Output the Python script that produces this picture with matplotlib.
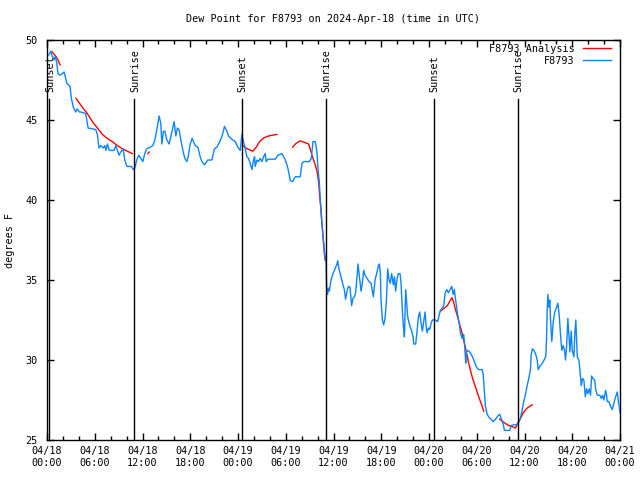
import numpy as np
import pandas as pd
import matplotlib
matplotlib.use("Agg")
import matplotlib.pyplot as plt
import matplotlib.dates as mdates
from matplotlib.lines import Line2D

# ---------------- data ----------------
start = pd.Timestamp("2024-04-18 00:00")

obs_hours = [
    0.21, 0.47, 0.63, 0.79, 0.88, 1.04, 1.22, 1.38, 1.64, 1.92, 2.14, 2.30, 2.48, 2.89, 3.06, 3.31,
    3.61, 3.81, 4.06, 4.24, 4.87, 5.16, 6.13, 6.33, 6.54, 6.75, 7.08, 7.26, 7.42, 7.58, 7.84, 8.01,
    8.43, 8.64, 8.84, 9.06, 9.27, 9.56, 9.77, 10.03, 10.60, 10.86, 11.03, 11.28, 11.53, 11.79, 12.04,
    12.29, 12.54, 12.96, 13.30, 13.55, 13.87, 14.09, 14.30, 14.43, 14.63, 14.81, 15.06, 15.35, 15.76,
    15.97, 16.19, 16.39, 16.60, 16.82, 17.07, 17.32, 17.57, 17.74, 17.99, 18.24,
    18.62, 18.96, 19.25, 19.46, 19.79, 20.21, 20.72, 21.04, 21.35, 21.76, 22.05, 22.30, 22.60, 22.81,
    23.23, 23.65, 23.99, 24.28, 24.49, 24.69, 24.91, 25.12, 25.32, 25.53, 25.75, 25.95, 26.08, 26.16,
    26.38, 26.58, 26.79, 27.01, 27.21, 27.42, 27.55, 27.76, 28.68, 29.02, 29.52, 29.85, 30.15, 30.35,
    30.57, 30.86, 31.19, 31.82, 32.04, 32.24, 32.96, 33.21, 33.42, 33.71, 33.92, 34.05, 34.21, 34.34,
    34.47, 34.63, 34.75, 34.88, 35.01, 35.06, 35.14, 35.26, 35.35, 35.47, 35.69, 35.94, 36.19, 36.44,
    36.52, 36.69, 36.94, 37.19, 37.36, 37.52, 37.70, 37.86, 38.08, 38.15, 38.28, 38.45, 38.62, 38.78,
    38.96, 39.08, 39.21, 39.37, 39.46, 39.62, 39.79, 39.96, 40.21, 40.47, 40.72, 40.88, 41.01, 41.22,
    41.47, 41.64, 41.76, 41.89, 41.97, 42.14, 42.30, 42.48, 42.64, 42.81, 42.98, 43.14, 43.31, 43.52,
    43.65, 43.81, 43.99, 44.15, 44.36, 44.49, 44.65, 44.78, 44.91, 45.07, 45.20, 45.32, 45.50, 45.66,
    45.82, 46.00, 46.08, 46.33, 46.50, 46.67, 46.83, 47.01, 47.17, 47.33, 47.51, 47.64, 47.76, 47.92,
    48.09, 48.26, 48.43, 48.77, 49.09, 49.27, 49.43, 49.60, 49.85, 50.03, 50.23, 50.44, 50.65, 50.86,
    51.03, 51.19, 51.28, 51.45, 51.61, 51.79, 51.95, 52.16, 52.36, 52.49, 52.62, 52.70, 52.87, 53.12,
    53.42, 53.62, 53.84, 54.05, 54.25, 54.68, 54.81, 54.97, 55.09, 55.31, 55.56, 55.81, 56.06, 56.35,
    56.64, 56.89, 57.07, 57.32, 57.48, 58.15, 58.33, 58.65, 58.99, 59.16, 59.33, 59.50, 59.66, 59.84,
    60.00, 60.16, 60.34, 60.54, 60.75, 60.84, 60.97, 61.17, 61.38, 61.60, 61.72, 61.92, 62.23, 62.52,
    62.68, 62.77, 62.85, 62.93, 63.06, 63.18, 63.27, 63.43, 63.61, 63.81, 64.03, 64.19, 64.36, 64.53,
    64.69, 64.87, 65.03, 65.16, 65.28, 65.45, 65.62, 65.70, 65.87, 66.00, 66.20, 66.33, 66.45, 66.63,
    66.83, 66.96, 67.13, 67.30, 67.46, 67.64, 67.80, 67.96, 68.14, 68.30, 68.43, 68.59, 68.81, 68.97,
    69.15, 69.47, 69.65, 69.81, 69.97, 70.19, 70.31, 70.40, 70.60, 70.82, 71.03, 71.23, 71.45, 71.66,
    71.79, 71.91, 71.99,
]
obs_dewpt = [
    49.06, 49.3, 49.0, 48.9, 48.75, 48.96, 48.6, 47.9, 47.8, 47.9, 48.0, 47.7, 47.3, 47.1, 46.35, 45.8,
    45.5, 45.7, 45.5, 45.5, 45.4, 44.5, 44.4, 44.1, 43.25, 43.4, 43.25, 43.4, 43.1, 43.5, 43.1, 43.1,
    43.1, 43.4, 43.1, 42.8, 43.0, 43.2, 42.5, 42.1, 42.1, 41.9, 42.0, 42.5, 42.8, 42.6, 42.4,
    42.9, 43.2, 43.3, 43.4, 43.75, 44.6, 45.25, 44.8, 43.5, 44.3, 44.3, 43.75, 43.5, 44.4,
    44.9, 44.0, 44.5, 44.4, 43.75, 43.1, 42.6, 42.4, 42.7, 43.5, 43.85,
    43.4, 43.3, 42.7, 42.4, 42.2, 42.5, 42.5, 43.2, 43.3, 43.7, 44.1, 44.6, 44.3, 44.0,
    43.8, 43.65, 43.3, 43.1, 44.1, 43.65, 43.2, 42.7, 42.6, 42.3, 41.9, 42.5, 42.7, 42.1,
    42.5, 42.4, 42.6, 42.4, 42.7, 42.9, 42.4, 42.55, 42.55, 42.8, 42.9, 42.6, 42.2, 41.8,
    41.2, 41.15, 41.45, 41.45, 42.3, 42.4, 42.4, 42.6, 43.65, 43.65, 43.0, 42.0, 41.15, 40.1,
    38.95, 38.1, 37.4, 36.7, 36.25, 36.15, 34.5, 34.1, 34.5, 34.3, 35.0, 35.4, 35.7, 36.0,
    36.2, 35.7, 35.2, 34.7, 34.4, 33.8, 34.3, 34.6, 34.55, 34.1, 33.4, 33.85, 33.95, 34.2,
    35.2, 36.0, 35.4, 34.6, 34.3, 34.8, 35.6, 35.3, 35.1, 34.9, 34.8, 34.3, 33.95, 35.0,
    35.5, 35.9, 36.0, 35.4, 33.75, 32.5, 32.2, 32.6, 33.65, 35.7, 35.0, 34.8, 35.4, 34.7,
    35.2, 34.3, 35.1, 35.4, 35.4, 34.8, 33.1, 32.1, 31.45, 34.4, 33.55, 32.7, 32.3, 32.05,
    31.8, 31.45, 31.0, 31.0, 31.8, 32.7, 33.0, 32.3, 31.8, 32.4, 33.0, 32.1, 31.7, 32.0,
    31.9, 32.3, 32.5, 32.5, 32.4, 32.8, 33.1, 33.2, 33.4, 34.2, 34.4, 34.2, 34.4, 34.6,
    34.1, 34.4, 33.95, 33.4, 32.8, 32.3, 31.7, 31.35, 31.6, 30.8, 29.8, 30.5, 30.6, 30.5,
    30.25, 30.0, 29.7, 29.5, 29.4, 29.4, 29.1, 28.0, 27.1, 26.6, 26.4, 26.3, 26.15, 26.3,
    26.5, 26.6, 26.35, 26.0, 25.6, 25.6, 25.9, 25.95, 25.95, 26.05, 26.15, 26.4, 26.75, 27.25,
    27.6, 27.95, 28.4, 28.85, 29.4, 30.3, 30.7, 30.6, 30.4, 30.0, 29.4, 29.6, 29.8, 30.05,
    30.25, 31.35, 33.1, 34.1, 33.3, 33.75, 32.5, 31.15, 32.4, 33.0, 33.3, 33.55, 32.8, 31.55,
    30.6, 30.9, 30.6, 30.0, 30.8, 32.6, 31.25, 30.5, 31.8, 30.6, 30.2, 31.7, 32.5, 30.2,
    30.0, 29.4, 28.4, 28.85, 28.75, 27.7, 28.2, 27.9, 28.2, 27.8, 29.0, 28.85, 28.75, 28.1,
    27.8, 27.8, 27.6, 27.8, 27.5, 28.1, 27.8, 27.4, 27.4, 27.1, 26.9, 27.3, 27.7, 28.0,
    27.4, 27.1, 26.7,
]

# analysis series: segments separated by NaN gaps
ana_hours = [
    0.63, 1.13, 1.38, 1.64, np.nan,
    3.65, 4.44, 5.07, 5.70, 6.33, 6.96, 7.58, 8.21, 8.84, 9.47, 10.10, 10.73, np.nan,
    12.67, 12.83, np.nan,
    24.59, 25.16, 25.87, 26.29, 26.58, 26.92, 27.30, 27.84, 28.30, 28.89, np.nan,
    30.86, 31.32, 31.82, 32.36, 32.87, 33.12, 33.42, 33.71, 33.92, 34.13, 34.25, 34.43, 34.55, 34.68,
    34.81, 34.93, np.nan,
    49.43, 50.31, 50.88, 51.07, 51.36, 51.70, 52.04, 52.36, 52.70, 52.99, 53.42, 53.84, 54.25, 54.68,
    54.88, np.nan,
    56.89, 57.40, 58.03, 58.65, 58.87, 59.16, 59.50, 59.84, 60.34, 60.97,
]
ana_dewpt = [
    49.27, 48.96, 48.75, 48.44, np.nan,
    46.35, 45.8, 45.4, 44.9, 44.5, 44.1, 43.85, 43.65, 43.4, 43.2, 43.05, 42.9, np.nan,
    42.9, 43.0, np.nan,
    43.4, 43.2, 43.05, 43.3, 43.55, 43.75, 43.9, 44.0, 44.05, 44.1, np.nan,
    43.3, 43.55, 43.7, 43.6, 43.5, 43.1, 42.6, 42.2, 41.8, 41.15, 40.3, 39.4, 38.55, 37.7,
    36.9, 36.25, np.nan,
    33.05, 33.4, 33.9, 33.65, 33.1, 32.5, 31.9, 31.25, 30.5, 29.8, 28.95, 28.3, 27.7, 27.1,
    26.8, np.nan,
    26.3, 26.1, 25.9, 25.8, 25.75, 26.05, 26.35, 26.7, 27.0, 27.2,
]

sun_labels = ["Sunset", "Sunrise", "Sunset", "Sunrise", "Sunset", "Sunrise"]
sun_hours = [0.29, 10.98, 24.44, 35.01, 48.59, 59.16]

title = "Dew Point for F8793 on 2024-Apr-18 (time in UTC)"
ylabel = "degrees F"
series_names = ["F8793 Analysis", "F8793"]

# ---------------- plot ----------------
FONT = "DejaVu Sans Mono"
FS = 7.3
plt.rcParams["font.family"] = [FONT, "DejaVu Sans"]

def to_time(hours):
    return [start + pd.Timedelta(hours=float(h)) if not np.isnan(h) else pd.NaT for h in hours]

fig = plt.figure(figsize=(6.4, 4.8), dpi=100)
ax = fig.add_axes([47 / 640, 40 / 480, 573 / 640, 400 / 480])

red = "#ff0000"
blue = "#0a84ff"

ana_t = to_time(ana_hours)
obs_t = to_time(obs_hours)
ana_x = [mdates.date2num(t) if t is not pd.NaT else np.nan for t in ana_t]
obs_x = mdates.date2num(obs_t)

ax.plot(ana_x, ana_dewpt, color=red, lw=1.0, zorder=2)
ax.plot(obs_x, obs_dewpt, color=blue, lw=1.0, zorder=3)

ymin, ymax = 25, 50
line_top = 46.3
label_bottom = 46.75
for lab, h in zip(sun_labels, sun_hours):
    xv = mdates.date2num(start + pd.Timedelta(hours=h))
    ax.plot([xv, xv], [ymin, line_top], color="black", lw=1.0, zorder=4)
    ax.text(xv + 0.004, label_bottom, lab, rotation=90, ha="center", va="bottom",
            fontsize=FS, family=FONT, zorder=5)

x0 = mdates.date2num(start)
x1 = mdates.date2num(start + pd.Timedelta(hours=72))
ax.set_xlim(x0, x1)
ax.set_ylim(ymin, ymax)

ax.xaxis.set_major_locator(mdates.HourLocator(byhour=[0, 6, 12, 18]))
ax.xaxis.set_minor_locator(mdates.HourLocator(byhour=range(0, 24, 2)))
ax.xaxis.set_major_formatter(mdates.DateFormatter("%m/%d\n%H:%M"))
ax.set_yticks([25, 30, 35, 40, 45, 50])

ax.tick_params(axis="both", which="major", direction="in", length=5, width=1,
               top=True, right=True, labelsize=FS, pad=4)
ax.tick_params(axis="x", which="minor", direction="in", length=3, width=1, top=True)
ax.tick_params(axis="y", which="major", pad=7)
for lbl in ax.get_xticklabels() + ax.get_yticklabels():
    lbl.set_family(FONT)
    lbl.set_linespacing(1.25)

for s in ax.spines.values():
    s.set_linewidth(1.0)
    s.set_color("black")

fig.text(333 / 640, 1 - 19 / 480, title, ha="center", va="center", fontsize=FS, family=FONT)
fig.text(10 / 640, 0.5, ylabel, ha="center", va="center", rotation=90, fontsize=FS, family=FONT)

handles = [Line2D([], [], color=red, lw=1.0), Line2D([], [], color=blue, lw=1.0)]
leg = ax.legend(handles, series_names, loc="upper right", bbox_to_anchor=(611 / 640, 1 - 44 / 480),
                bbox_transform=fig.transFigure, frameon=False, markerfirst=False,
                handlelength=2.8, handletextpad=0.8, labelspacing=0.2, borderpad=0,
                borderaxespad=0, prop={"family": FONT, "size": FS})
leg.set_zorder(6)

fig.savefig("out.png", dpi=100)
